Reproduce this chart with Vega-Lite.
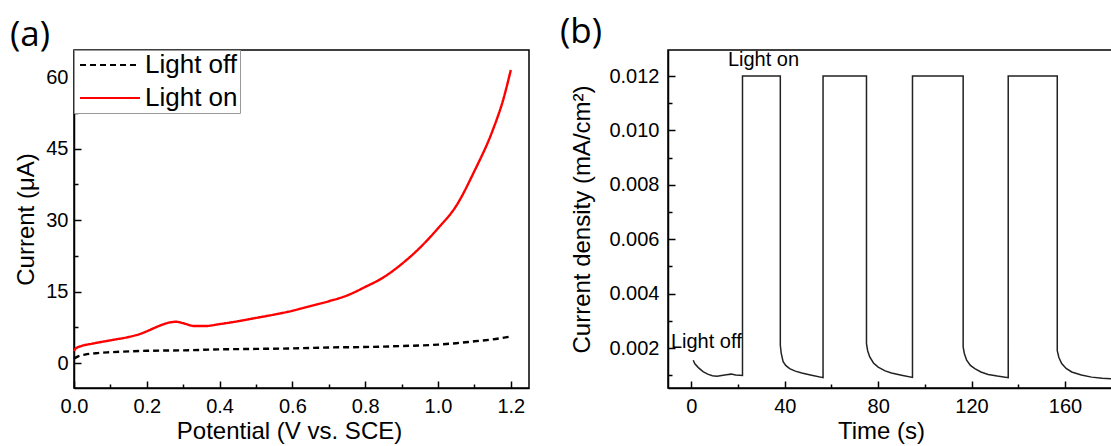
{
  "$schema": "https://vega.github.io/schema/vega-lite/v6.json",
  "background": "white",
  "padding": {"left": 9, "top": 14, "right": 0, "bottom": 0},
  "bounds": "flush",
  "spacing": 139,
  "config": {
    "font": "Liberation Sans",
    "view": {"stroke": "black", "strokeWidth": 1.5},
    "axis": {
      "domainColor": "black", "domainWidth": 1.5, "tickColor": "black", "tickWidth": 1.5,
      "labelColor": "black", "labelFontSize": 20, "labelFont": "Liberation Sans", "labelFlush": false,
      "titleColor": "black", "titleFontSize": 24, "titleFontWeight": "normal", "titleFont": "Liberation Sans",
      "grid": false
    },
    "title": {"font": "Open Sans", "fontSize": 35, "fontWeight": "normal", "color": "black"}
  },
  "hconcat": [
    {
      "width": 455,
      "height": 338,
      "title": {"text": "(a)", "anchor": "start", "frame": "group", "dx": -64, "offset": -31, "baseline": "alphabetic"},
      "data": {"values": [
        {"series": "Light off", "V": 0.0, "I": 1.0},
        {"series": "Light off", "V": 0.01, "I": 1.4},
        {"series": "Light off", "V": 0.03, "I": 1.8},
        {"series": "Light off", "V": 0.06, "I": 2.1},
        {"series": "Light off", "V": 0.1, "I": 2.3},
        {"series": "Light off", "V": 0.2, "I": 2.6},
        {"series": "Light off", "V": 0.3, "I": 2.7},
        {"series": "Light off", "V": 0.4, "I": 2.9},
        {"series": "Light off", "V": 0.5, "I": 3.0},
        {"series": "Light off", "V": 0.6, "I": 3.1},
        {"series": "Light off", "V": 0.7, "I": 3.3},
        {"series": "Light off", "V": 0.8, "I": 3.4},
        {"series": "Light off", "V": 0.9, "I": 3.6},
        {"series": "Light off", "V": 1.0, "I": 3.9},
        {"series": "Light off", "V": 1.05, "I": 4.2},
        {"series": "Light off", "V": 1.1, "I": 4.6},
        {"series": "Light off", "V": 1.15, "I": 5.0},
        {"series": "Light off", "V": 1.2, "I": 5.6},
        {"series": "Light on", "V": 0.0, "I": 2.6},
        {"series": "Light on", "V": 0.005, "I": 3.1},
        {"series": "Light on", "V": 0.02, "I": 3.6},
        {"series": "Light on", "V": 0.05, "I": 4.1},
        {"series": "Light on", "V": 0.1, "I": 4.8},
        {"series": "Light on", "V": 0.15, "I": 5.5},
        {"series": "Light on", "V": 0.18, "I": 6.1},
        {"series": "Light on", "V": 0.2, "I": 6.7},
        {"series": "Light on", "V": 0.23, "I": 7.7},
        {"series": "Light on", "V": 0.26, "I": 8.5},
        {"series": "Light on", "V": 0.28, "I": 8.7},
        {"series": "Light on", "V": 0.3, "I": 8.4},
        {"series": "Light on", "V": 0.33, "I": 7.8},
        {"series": "Light on", "V": 0.36, "I": 7.8},
        {"series": "Light on", "V": 0.4, "I": 8.2},
        {"series": "Light on", "V": 0.45, "I": 8.8},
        {"series": "Light on", "V": 0.5, "I": 9.5},
        {"series": "Light on", "V": 0.55, "I": 10.2},
        {"series": "Light on", "V": 0.6, "I": 11.0},
        {"series": "Light on", "V": 0.65, "I": 12.0},
        {"series": "Light on", "V": 0.7, "I": 13.0},
        {"series": "Light on", "V": 0.75, "I": 14.2},
        {"series": "Light on", "V": 0.8, "I": 16.0},
        {"series": "Light on", "V": 0.85, "I": 18.0},
        {"series": "Light on", "V": 0.9, "I": 20.8},
        {"series": "Light on", "V": 0.95, "I": 24.2},
        {"series": "Light on", "V": 1.0, "I": 28.3},
        {"series": "Light on", "V": 1.05, "I": 33.0},
        {"series": "Light on", "V": 1.1, "I": 40.3},
        {"series": "Light on", "V": 1.15, "I": 48.8},
        {"series": "Light on", "V": 1.18, "I": 55.5},
        {"series": "Light on", "V": 1.2, "I": 61.5}
      ]},
      "resolve": {"axis": {"x": "independent", "y": "independent"}},
      "layer": [
        {
          "mark": {"type": "line", "strokeWidth": 2.4, "interpolate": "monotone"},
          "encoding": {
            "x": {"field": "V", "type": "quantitative", "scale": {"domain": [0, 1.25], "nice": false},
              "axis": {"orient": "bottom", "title": "Potential (V vs. SCE)", "titleX": 215, "titlePadding": 3, "values": [0, 0.2, 0.4, 0.6, 0.8, 1.0, 1.2], "format": ".1f", "tickSize": -7, "labelPadding": 15}},
            "y": {"field": "I", "type": "quantitative", "scale": {"domain": [-5.2, 65.7], "nice": false, "zero": false},
              "axis": {"orient": "left", "title": "Current  (μA)", "titlePadding": 7, "values": [0, 15, 30, 45, 60], "tickSize": -7, "labelPadding": 13}},
            "color": {"field": "series", "type": "nominal", "scale": {"domain": ["Light off", "Light on"], "range": ["black", "#ff0000"]},
              "legend": {"orient": "none", "legendX": 0, "legendY": 0, "title": null, "symbolType": "M-0.9,0H5.1", "symbolSize": 400, "symbolStrokeWidth": 2.2, "labelFontSize": 26, "labelColor": "black", "labelFont": "Liberation Sans", "strokeColor": "#999", "fillColor": "white", "padding": 2, "rowPadding": 7, "labelOffset": 43}},
            "strokeDash": {"field": "series", "type": "nominal", "scale": {"domain": ["Light off", "Light on"], "range": [[6, 4], [1, 0]]},
              "legend": {"orient": "none", "legendX": 0, "legendY": 0, "title": null, "symbolType": "M-0.9,0H5.1", "symbolSize": 400, "symbolStrokeWidth": 2.2, "labelFontSize": 26, "labelColor": "black", "labelFont": "Liberation Sans", "strokeColor": "#999", "fillColor": "white", "padding": 2, "rowPadding": 7, "labelOffset": 43}}
          }
        },
        {
          "mark": {"type": "line", "opacity": 0},
          "encoding": {
            "x": {"field": "V", "type": "quantitative", "axis": {"orient": "bottom", "title": null, "labels": false, "domain": false, "values": [0.1, 0.3, 0.5, 0.7, 0.9, 1.1], "tickSize": -4}},
            "y": {"field": "I", "type": "quantitative", "axis": {"orient": "left", "title": null, "labels": false, "domain": false, "values": [7.5, 22.5, 37.5, 52.5], "tickSize": -4}},
            "detail": {"field": "series"}
          }
        }
      ]
    },
    {
      "width": 446,
      "height": 338,
      "title": {"text": "(b)", "anchor": "start", "frame": "group", "dx": -108, "offset": -28, "baseline": "alphabetic"},
      "resolve": {"axis": {"x": "independent", "y": "independent"}},
      "layer": [
        {
          "data": {"values": [
            {"t": 0.8, "j": 0.00155}, {"t": 1.5, "j": 0.00142}, {"t": 3, "j": 0.00128}, {"t": 5, "j": 0.00113},
            {"t": 7, "j": 0.00104}, {"t": 9, "j": 0.00098}, {"t": 11, "j": 0.00096}, {"t": 13, "j": 0.00099},
            {"t": 15, "j": 0.00102}, {"t": 17, "j": 0.00104}, {"t": 19, "j": 0.00101}, {"t": 21.9, "j": 0.00099},
            {"t": 21.9, "j": 0.012}, {"t": 38.1, "j": 0.012},
            {"t": 38.1, "j": 0.0021}, {"t": 38.5, "j": 0.0018}, {"t": 39.3, "j": 0.0015}, {"t": 40.5, "j": 0.00135},
            {"t": 42.1, "j": 0.00124}, {"t": 44.5, "j": 0.00115}, {"t": 47.3, "j": 0.00108}, {"t": 51, "j": 0.00101},
            {"t": 56.4, "j": 0.00091},
            {"t": 56.4, "j": 0.012}, {"t": 75.0, "j": 0.012},
            {"t": 75.0, "j": 0.00216}, {"t": 75.5, "j": 0.0019}, {"t": 76.4, "j": 0.00167}, {"t": 78, "j": 0.00145},
            {"t": 80, "j": 0.0013}, {"t": 83, "j": 0.00116}, {"t": 85.7, "j": 0.00108}, {"t": 90, "j": 0.001},
            {"t": 94.7, "j": 0.00092},
            {"t": 94.7, "j": 0.012}, {"t": 116.4, "j": 0.012},
            {"t": 116.4, "j": 0.00204}, {"t": 116.9, "j": 0.0018}, {"t": 117.9, "j": 0.00155}, {"t": 119.5, "j": 0.00136},
            {"t": 121.4, "j": 0.00124}, {"t": 124, "j": 0.00112}, {"t": 127.1, "j": 0.00103}, {"t": 131, "j": 0.00097},
            {"t": 135.7, "j": 0.00091},
            {"t": 135.7, "j": 0.012}, {"t": 156.7, "j": 0.012},
            {"t": 156.7, "j": 0.0019}, {"t": 157.4, "j": 0.00165}, {"t": 158.6, "j": 0.00143}, {"t": 160.5, "j": 0.00125},
            {"t": 162.9, "j": 0.00112}, {"t": 167, "j": 0.00101}, {"t": 171.4, "j": 0.00093}, {"t": 176, "j": 0.00089},
            {"t": 181, "j": 0.00086}
          ]},
          "mark": {"type": "line", "strokeWidth": 1.5, "color": "#222"},
          "encoding": {
            "x": {"field": "t", "type": "quantitative", "scale": {"domain": [-10, 181], "nice": false, "zero": false},
              "axis": {"orient": "bottom", "title": "Time (s)", "titleX": 213, "titlePadding": 3, "values": [0, 40, 80, 120, 160], "tickSize": -7, "labelPadding": 15}},
            "y": {"field": "j", "type": "quantitative", "scale": {"domain": [0.00053, 0.01296], "nice": false, "zero": false},
              "axis": {"orient": "left", "title": "Current density (mA/cm²)", "titlePadding": 14, "values": [0.002, 0.004, 0.006, 0.008, 0.01, 0.012], "format": ".3f", "tickSize": -7, "labelPadding": 16}},
            "order": {"value": null}
          }
        },
        {
          "data": {"values": [
            {"t": 30.9, "j": 0.01259, "label": "Light on"},
            {"t": 6.4, "j": 0.00221, "label": "Light off"}
          ]},
          "mark": {"type": "text", "fontSize": 20, "font": "Liberation Sans", "color": "black"},
          "encoding": {
            "x": {"field": "t", "type": "quantitative", "axis": {"orient": "bottom", "title": null, "labels": false, "domain": false, "values": [20, 60, 100, 140], "tickSize": -4}},
            "y": {"field": "j", "type": "quantitative", "axis": {"orient": "left", "title": null, "labels": false, "domain": false, "values": [0.001, 0.003, 0.005, 0.007, 0.009, 0.011], "tickSize": -4}},
            "text": {"field": "label"}
          }
        }
      ]
    }
  ]
}
